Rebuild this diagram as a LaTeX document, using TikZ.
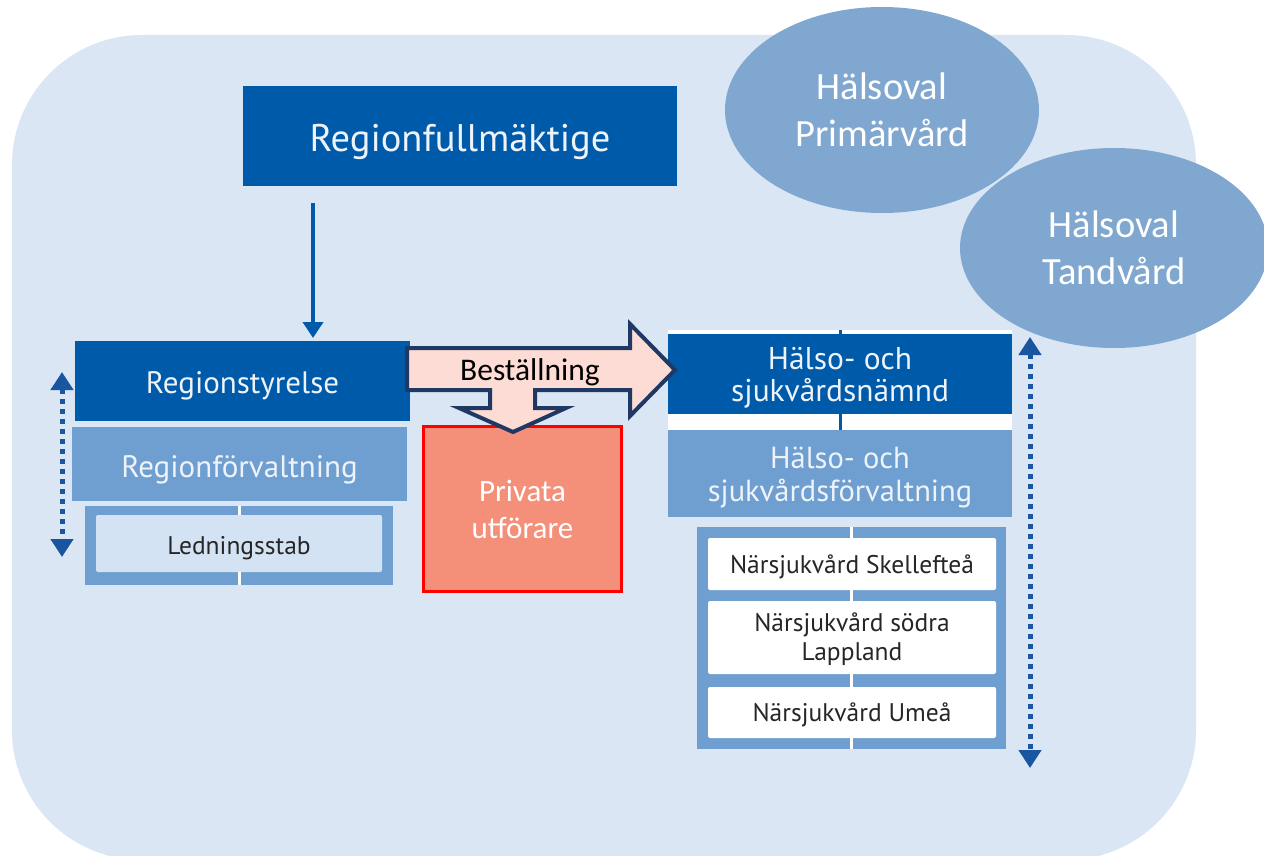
\documentclass[tikz,border=0pt]{standalone}
\usepackage{fontspec}
\setmainfont{Carlito}
\newfontfamily\boxfont{PT Sans}
\usetikzlibrary{arrows.meta,shapes.geometric}
\definecolor{bgblue}{HTML}{DAE6F4}
\definecolor{darkblue}{HTML}{005AAA}
\definecolor{midblue}{HTML}{6F9FD0}
\definecolor{ellblue}{HTML}{80A7D0}
\definecolor{lightin}{HTML}{D3E3F4}
\definecolor{navy}{HTML}{1F3864}
\definecolor{arrfill}{HTML}{FCDCD5}
\definecolor{salmon}{HTML}{F4907A}
\definecolor{boxtext}{HTML}{EEF3FA}
\definecolor{dottedblue}{HTML}{1A56A0}
\newcommand{\dn}[2]{\raisebox{-#1}[\height][\depth]{\begin{tabular}{@{}c@{}}#2\end{tabular}}}
\tikzset{
  darkbox/.style={fill=darkblue,draw=none,inner sep=0pt,text=boxtext,font=\boxfont,align=center},
  midbox/.style={fill=midblue,draw=none,inner sep=0pt,text=boxtext,font=\boxfont,align=center},
  unitbox/.style={fill=white,draw=none,rounded corners=2pt,inner sep=0pt,text=black!85,font=\boxfont\fontsize{25.5}{29}\selectfont,align=center},
  ellnode/.style={ellipse,fill=ellblue,draw=none,inner sep=0pt,text=white,align=center,font=\fontsize{38.5}{47}\selectfont},
  dblarrow/.style={draw=dottedblue,line width=5pt,dash pattern=on 5pt off 5pt,{Triangle[width=22pt,length=18pt]}-{Triangle[width=22pt,length=18pt]}},
}
\begin{document}
\begin{tikzpicture}[x=1pt,y=-1pt]
\useasboundingbox (0,0) rectangle (1264,856);
\fill[white] (0,0) rectangle (1264,856);
% background
\fill[bgblue,rounded corners=130pt] (12,35) rectangle (1196,860);

% ellipses
\node[ellnode,minimum width=314pt,minimum height=206pt] (prim) at (882,110) {Hälsoval\\Primärvård};
\node[ellnode,minimum width=308pt,minimum height=200pt] (tand) at (1114,248) {Hälsoval\\Tandvård};

% Regionfullmäktige
\node[darkbox,minimum width=434pt,minimum height=100pt,font=\boxfont\fontsize{38.5}{44}\selectfont] (rf) at (460,136) {\dn{7pt}{Regionfullmäktige}};

% left column
\node[darkbox,minimum width=335pt,minimum height=80pt,font=\boxfont\fontsize{31}{36}\selectfont] (rs) at (242.5,381) {\dn{5pt}{Regionstyrelse}};
\node[midbox,minimum width=335pt,minimum height=74pt,font=\boxfont\fontsize{31}{36}\selectfont] (rfv) at (239.5,464) {\dn{6pt}{Regionförvaltning}};
\node[fill=midblue,minimum width=308pt,minimum height=79pt,inner sep=0pt] (lcont) at (239,545.5) {};
\draw[white,line width=3pt] (239,506) -- (239,585);
\node[unitbox,fill=lightin,minimum width=286pt,minimum height=57pt] (ls) at (239,543.5) {\dn{5pt}{Ledningsstab}};

% arrow Regionfullmäktige -> Regionstyrelse
\coordinate (a1) at (313,203);
\draw[darkblue,line width=4pt,-{Triangle[width=20pt,length=16pt]}] (a1) -- (313,338);

% Privata utförare
\node[fill=salmon,draw=red,line width=3.5pt,minimum width=198pt,minimum height=165pt,inner sep=0pt,text=white,align=center,font=\fontsize{31}{37}\selectfont] (pu) at (522.5,509) {Privata\\utförare};

% right column
\fill[white] (668,330) rectangle (1012,430);
\draw[darkblue,line width=3pt] (840,330) -- (840,430);
\node[darkbox,minimum width=344pt,minimum height=80pt,font=\boxfont\fontsize{31.5}{32.5}\selectfont] (hsn) at (840,374) {\dn{5pt}{Hälso- och\\sjukvårdsnämnd}};
\node[midbox,minimum width=344pt,minimum height=87pt,font=\boxfont\fontsize{30.5}{33}\selectfont] (hsf) at (840,473.5) {\dn{5pt}{Hälso- och\\sjukvårdsförvaltning}};
\node[fill=midblue,minimum width=309pt,minimum height=222pt,inner sep=0pt] (rcont) at (851.5,638) {};
\draw[white,line width=3pt] (851,527) -- (851,749);
\node[unitbox,minimum width=288pt,minimum height=52pt] (n1) at (852,564) {\dn{4pt}{Närsjukvård Skellefteå}};
\node[unitbox,minimum width=288pt,minimum height=73pt] (n2) at (852,637.5) {\dn{3pt}{Närsjukvård södra\\Lappland}};
\node[unitbox,minimum width=288pt,minimum height=51pt] (n3) at (852,712.5) {\dn{3pt}{Närsjukvård Umeå}};

% Beställning arrow
\draw[navy,line width=4pt,fill=arrfill,line join=miter]
  (407,348) -- (630,348) -- (630,324) -- (675,370) -- (630,416) -- (630,390)
  -- (535,390) -- (535,408) -- (566,408) -- (513,432) -- (459,408) -- (490,408)
  -- (490,390) -- (407,390) -- cycle;
\node[font=\fontsize{31.5}{34}\selectfont,text=black,inner sep=0pt] (best) at (530,372) {Beställning};

% dotted double arrows
\coordinate (lt) at (62,372);
\coordinate (lb) at (62,557);
\draw[dblarrow] (lt) -- (lb);
\coordinate (rt) at (1030,337);
\coordinate (rb) at (1030,768);
\draw[dblarrow] (rt) -- (rb);
\end{tikzpicture}
\end{document}
